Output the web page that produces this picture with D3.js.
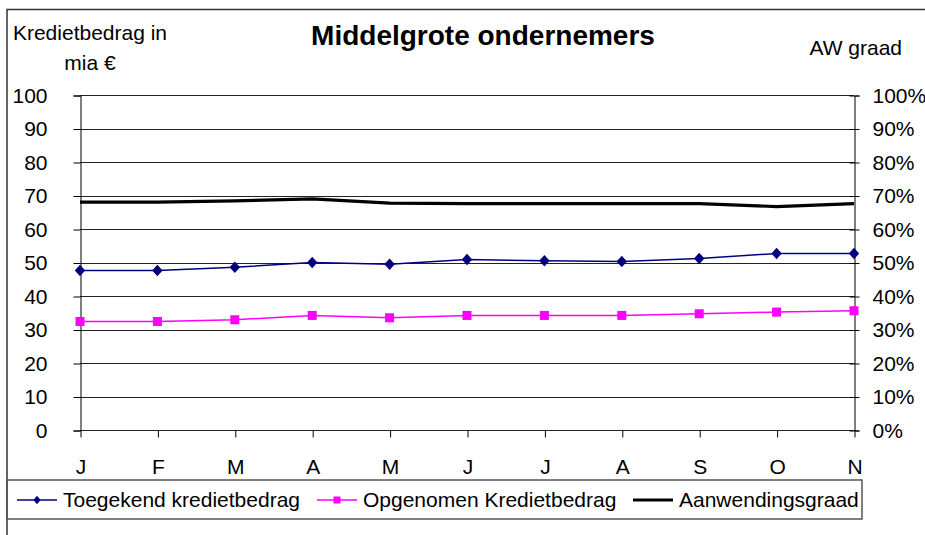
<!DOCTYPE html>
<html>
<head>
<meta charset="UTF-8">
<title>Middelgrote ondernemers</title>
<script src="https://d3js.org/d3.v7.min.js"></script>
<style>
    body { margin: 0; background: #fff; }
    svg text { font-family: "Liberation Sans", Arial, sans-serif; fill: #000; }
</style>
</head>
<body>
<div id="chart"></div>
<script>
    // data
    var months = ["J", "F", "M", "A", "M", "J", "J", "A", "S", "O", "N"];
    var toegekend = [47.6, 47.6, 48.6, 50.0, 49.5, 50.9, 50.5, 50.3, 51.2, 52.7, 52.7];
    var opgenomen = [32.4, 32.4, 32.9, 34.2, 33.5, 34.2, 34.2, 34.2, 34.7, 35.2, 35.6];
    var aanwending = [0.680, 0.680, 0.684, 0.690, 0.677, 0.676, 0.676, 0.676, 0.676, 0.667, 0.676];
    var leftTicks = [0, 10, 20, 30, 40, 50, 60, 70, 80, 90, 100];
    var rightTicks = [0, 0.1, 0.2, 0.3, 0.4, 0.5, 0.6, 0.7, 0.8, 0.9, 1];

    var width = 925, height = 535;
    var plot = {left: 80, right: 854, top: 95, bottom: 430};

    var svg = d3.select("#chart").append("svg")
        .attr("width", width)
        .attr("height", height);

    // outer frame (runs off the picture to the right and bottom)
    svg.append("rect")
        .attr("x", 7).attr("y", 9.5)
        .attr("width", 940).attr("height", 560)
        .attr("fill", "#fff")
        .attr("stroke", "#333")
        .attr("stroke-width", 1.5);

    var x = d3.scalePoint()
        .domain(d3.range(months.length))
        .range([plot.left, plot.right]);
    var y = d3.scaleLinear().domain([0, 100]).range([plot.bottom, plot.top]);
    var y2 = d3.scaleLinear().domain([0, 1]).range([plot.bottom, plot.top]);

    // gridlines
    svg.append("g")
        .selectAll("line")
        .data(leftTicks)
        .enter().append("line")
        .attr("x1", plot.left).attr("x2", plot.right)
        .attr("y1", function(d) { return Math.round(y(d)) + 0.5; })
        .attr("y2", function(d) { return Math.round(y(d)) + 0.5; })
        .attr("stroke", "#222")
        .attr("stroke-width", 1);

    // axes
    var gLeft = svg.append("g")
        .attr("transform", "translate(" + (plot.left + 0.5) + ",0.5)")
        .call(d3.axisLeft(y).tickValues(leftTicks).tickSize(7).tickPadding(26));
    var gRight = svg.append("g")
        .attr("transform", "translate(" + (plot.right + 0.5) + ",0.5)")
        .call(d3.axisRight(y2).tickValues(rightTicks).tickSize(5).tickPadding(13)
            .tickFormat(d3.format(".0%")));
    gRight.selectAll(".tick line").attr("x1", -5);
    var gBottom = svg.append("g")
        .attr("transform", "translate(0.5," + (plot.bottom + 0.5) + ")")
        .call(d3.axisBottom(x).tickSize(7).tickFormat(function(i) { return months[i]; }));
    gBottom.selectAll(".tick text").attr("y", 43).attr("dy", 0);

    [gLeft, gRight, gBottom].forEach(function(g) {
        g.selectAll(".domain").attr("stroke", "#000");
        g.selectAll(".tick line").attr("stroke", "#000");
        g.selectAll("text")
            .style("font-family", "'Liberation Sans', Arial, sans-serif")
            .style("font-size", "21px")
            .attr("fill", "#000");
    });
    gBottom.select(".domain").remove();

    // series
    var lineLeft = d3.line()
        .x(function(d, i) { return x(i); })
        .y(function(d) { return y(d); });
    var lineRight = d3.line()
        .x(function(d, i) { return x(i); })
        .y(function(d) { return y2(d); });

    svg.append("path")
        .datum(aanwending)
        .attr("d", lineRight)
        .attr("fill", "none")
        .attr("stroke", "#000")
        .attr("stroke-width", 3.2);

    svg.append("path")
        .datum(toegekend)
        .attr("d", lineLeft)
        .attr("fill", "none")
        .attr("stroke", "#000080")
        .attr("stroke-width", 1.5);
    svg.append("g")
        .selectAll("path")
        .data(toegekend)
        .enter().append("path")
        .attr("d", d3.symbol(d3.symbolDiamond2, 85))
        .attr("transform", function(d, i) { return "translate(" + x(i) + "," + y(d) + ") scale(0.9,1)"; })
        .attr("fill", "#000080");

    svg.append("path")
        .datum(opgenomen)
        .attr("d", lineLeft)
        .attr("fill", "none")
        .attr("stroke", "#ff00ff")
        .attr("stroke-width", 1.5);
    svg.append("g")
        .selectAll("rect")
        .data(opgenomen)
        .enter().append("rect")
        .attr("x", function(d, i) { return x(i) - 4.5; })
        .attr("y", function(d) { return y(d) - 4.5; })
        .attr("width", 9).attr("height", 9)
        .attr("fill", "#ff00ff");

    // titles
    svg.append("text")
        .attr("x", 483).attr("y", 45)
        .attr("text-anchor", "middle")
        .style("font-size", "28px")
        .style("font-weight", "bold")
        .text("Middelgrote ondernemers");

    var yTitle = svg.append("text")
        .attr("text-anchor", "middle")
        .style("font-size", "21px");
    yTitle.append("tspan").attr("x", 90).attr("y", 40).text("Kredietbedrag in");
    yTitle.append("tspan").attr("x", 90).attr("y", 70).text("mia €");

    svg.append("text")
        .attr("x", 902).attr("y", 55)
        .attr("text-anchor", "end")
        .style("font-size", "21px")
        .text("AW graad");

    // legend
    svg.append("rect")
        .attr("x", 7).attr("y", 480)
        .attr("width", 855).attr("height", 39)
        .attr("fill", "none")
        .attr("stroke", "#555")
        .attr("stroke-width", 1.5);

    var legendItems = [
        {name: "Toegekend kredietbedrag", color: "#000080", marker: "diamond", x: 17, w: 1.5},
        {name: "Opgenomen Kredietbedrag", color: "#ff00ff", marker: "square", x: 317, w: 1.5},
        {name: "Aanwendingsgraad", color: "#000", marker: "none", x: 633, w: 3.2}
    ];
    var legend = svg.append("g");
    var item = legend.selectAll("g")
        .data(legendItems)
        .enter().append("g")
        .attr("transform", function(d) { return "translate(" + d.x + ",500)"; });
    item.append("line")
        .attr("x1", 0).attr("x2", 40)
        .attr("stroke", function(d) { return d.color; })
        .attr("stroke-width", function(d) { return d.w; });
    item.filter(function(d) { return d.marker === "diamond"; })
        .append("path")
        .attr("d", d3.symbol(d3.symbolDiamond2, 45))
        .attr("transform", "translate(20,0) scale(0.85,1)")
        .attr("fill", "#000080");
    item.filter(function(d) { return d.marker === "square"; })
        .append("rect")
        .attr("x", 16.5).attr("y", -3.5)
        .attr("width", 7).attr("height", 7)
        .attr("fill", "#ff00ff");
    item.append("text")
        .attr("x", 46).attr("y", 7)
        .style("font-size", "21px")
        .text(function(d) { return d.name; });
</script>
</body>
</html>
